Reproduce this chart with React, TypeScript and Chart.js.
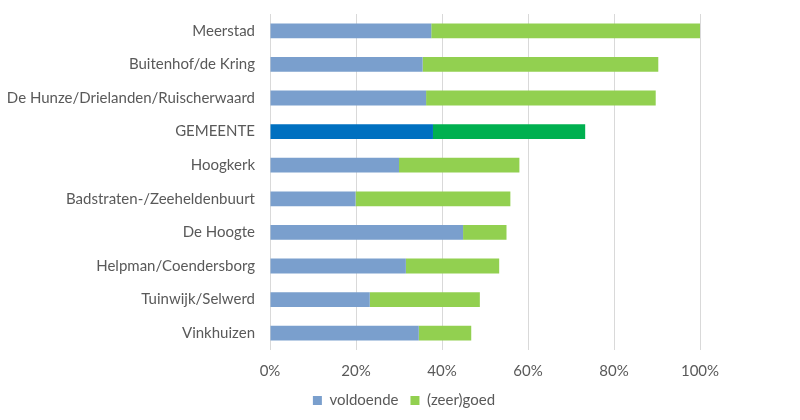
import React, { useEffect, useRef } from 'react';
import Chart from 'chart.js/auto';

const categories = [
  'Meerstad',
  'Buitenhof/de Kring',
  'De Hunze/Drielanden/Ruischerwaard',
  'GEMEENTE',
  'Hoogkerk',
  'Badstraten-/Zeeheldenbuurt',
  'De Hoogte',
  'Helpman/Coendersborg',
  'Tuinwijk/Selwerd',
  'Vinkhuizen',
];
const voldoende = [37.5, 35.5, 36.3, 37.9, 30.0, 19.9, 44.9, 31.6, 23.2, 34.6];
const zeerGoed = [62.5, 54.8, 53.4, 35.4, 28.0, 36.0, 10.1, 21.7, 25.6, 12.2];
const xTicks = [0, 20, 40, 60, 80, 100];

const highlight = 'GEMEENTE';
const blue = '#7A9FCD';
const blueHi = '#0070C0';
const green = '#92D050';
const greenHi = '#00B050';
const FONT = "Lato, 'Open Sans', sans-serif";
const TEXT = '#595959';

// legend is laid out over the plot width only; move it to where Excel put it
const shiftLegend = {
  id: 'shiftLegend',
  afterLayout(chart: any) {
    const l = chart.legend;
    if (!l) return;
    l.left += 54;
    l.right += 54;
  },
};

const App = () => {
  const chartRef = useRef<HTMLCanvasElement | null>(null);

  useEffect(() => {
    document.body.style.margin = '0';
    if (!chartRef.current) return;
    const ctx = chartRef.current.getContext('2d');
    const chart = new Chart(ctx!, {
      type: 'bar',
      data: {
        labels: categories,
        datasets: [
          {
            label: 'voldoende',
            data: voldoende,
            backgroundColor: categories.map((c) => (c === highlight ? blueHi : blue)),
            borderWidth: 0,
          },
          {
            label: '(zeer)goed',
            data: zeerGoed,
            backgroundColor: categories.map((c) => (c === highlight ? greenHi : green)),
            borderWidth: 0,
          },
        ],
      },
      plugins: [shiftLegend],
      options: {
        animation: false,
        responsive: false,
        indexAxis: 'y',
        barPercentage: 0.44,
        categoryPercentage: 1,
        layout: { padding: { top: 14, right: 100, bottom: 2, left: 0 } },
        plugins: {
          tooltip: { enabled: false },
          legend: {
            position: 'bottom',
            labels: {
              color: TEXT,
              font: { family: FONT, size: 15 },
              boxWidth: 9,
              boxHeight: 9,
              padding: 12,
              generateLabels: () => [
                { text: 'voldoende', fillStyle: blue, strokeStyle: blue, lineWidth: 0, fontColor: TEXT, datasetIndex: 0 },
                { text: '(zeer)goed', fillStyle: green, strokeStyle: green, lineWidth: 0, fontColor: TEXT, datasetIndex: 1 },
              ],
            },
          },
        },
        scales: {
          x: {
            stacked: true,
            min: 0,
            max: 100,
            afterBuildTicks: (scale: any) => {
              scale.ticks = xTicks.map((v) => ({ value: v }));
            },
            afterFit: (scale: any) => {
              scale.height = 31;
            },
            ticks: {
              color: TEXT,
              font: { family: FONT, size: 15 },
              padding: 12,
              callback: (v: any) => v + '%',
            },
            grid: { color: '#D9D9D9', lineWidth: 1, drawTicks: false },
            border: { display: false },
          },
          y: {
            stacked: true,
            afterFit: (scale: any) => {
              scale.width = 270;
              scale.paddingTop = 0;
              scale.paddingBottom = 0;
            },
            ticks: {
              color: TEXT,
              font: { family: FONT, size: 15 },
              padding: 15,
            },
            grid: { display: false, drawTicks: false },
            border: { display: false },
          },
        },
      },
    });
    return () => {
      chart.destroy();
    };
  }, []);

  return (
    <div style={{ width: 800, height: 420 }}>
      <canvas ref={chartRef} width={800} height={420} />
    </div>
  );
};

export default App;
